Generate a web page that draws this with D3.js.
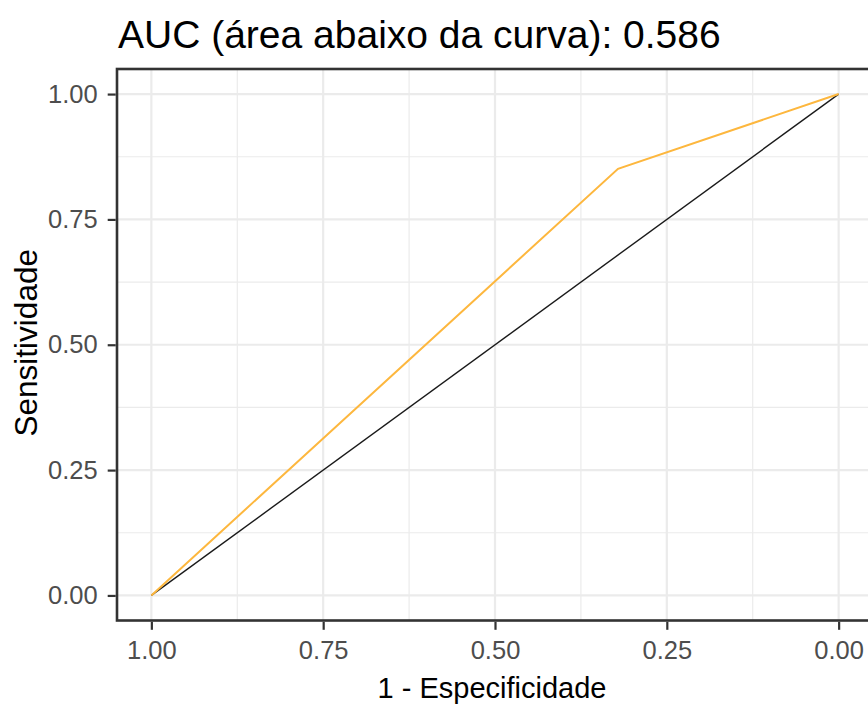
<!DOCTYPE html>
<html>
<head>
<meta charset="utf-8">
<script src="https://cdn.jsdelivr.net/npm/d3@7"></script>
<style>
  html, body { margin: 0; padding: 0; background: #fff; }
  svg { display: block; font-family: "Liberation Sans", Arial, sans-serif; }
</style>
</head>
<body>
<svg id="chart" width="868" height="707"></svg>
<script>
// ROC curve points (specificity on a reversed x axis, sensitivity on y)
const specificity = [1, 0.321, 0];
const sensitivity = [0, 0.851, 1];

// Chance line
const chanceX = [1, 0];
const chanceY = [0, 1];

const tickValues = [1, 0.75, 0.5, 0.25, 0];
const minorValues = [0.875, 0.625, 0.375, 0.125];

const titleText = "AUC (área abaixo da curva): 0.586";
const xTitle = "1 - Especificidade";
const yTitle = "Sensitividade";

const svg = d3.select("#chart");
const W = 868, H = 707;
const panel = { left: 117, top: 69, right: 873, bottom: 620.5 };

const x = d3.scaleLinear().domain([1.05, -0.05]).range([panel.left, panel.right]);
const y = d3.scaleLinear().domain([-0.05, 1.05]).range([panel.bottom, panel.top]);

svg.append("rect").attr("width", W).attr("height", H).attr("fill", "#fff");

svg.append("defs").append("clipPath").attr("id", "panel-clip")
  .append("rect")
  .attr("x", panel.left).attr("y", panel.top)
  .attr("width", panel.right - panel.left).attr("height", panel.bottom - panel.top);

const g = svg.append("g").attr("clip-path", "url(#panel-clip)");

// minor grid
g.selectAll(".vminor").data(minorValues).join("line")
  .attr("x1", d => x(d)).attr("x2", d => x(d))
  .attr("y1", panel.top).attr("y2", panel.bottom)
  .attr("stroke", "#EBEBEB").attr("stroke-width", 1.2);
g.selectAll(".hminor").data(minorValues).join("line")
  .attr("y1", d => y(d)).attr("y2", d => y(d))
  .attr("x1", panel.left).attr("x2", panel.right)
  .attr("stroke", "#EBEBEB").attr("stroke-width", 1.2);

// major grid
g.selectAll(".vmajor").data(tickValues).join("line")
  .attr("x1", d => x(d)).attr("x2", d => x(d))
  .attr("y1", panel.top).attr("y2", panel.bottom)
  .attr("stroke", "#EBEBEB").attr("stroke-width", 2.2);
g.selectAll(".hmajor").data(tickValues).join("line")
  .attr("y1", d => y(d)).attr("y2", d => y(d))
  .attr("x1", panel.left).attr("x2", panel.right)
  .attr("stroke", "#EBEBEB").attr("stroke-width", 2.2);

// chance diagonal
const line = d3.line().x(d => x(d[0])).y(d => y(d[1]));
g.append("path")
  .attr("d", line(d3.zip(chanceX, chanceY)))
  .attr("fill", "none").attr("stroke", "#1a1a1a").attr("stroke-width", 1.4);

// ROC curve
g.append("path")
  .attr("d", line(d3.zip(specificity, sensitivity)))
  .attr("fill", "none").attr("stroke", "#FDB73E").attr("stroke-width", 2);

// panel border
svg.append("rect")
  .attr("x", panel.left).attr("y", panel.top)
  .attr("width", panel.right - panel.left).attr("height", panel.bottom - panel.top)
  .attr("fill", "none").attr("stroke", "#333").attr("stroke-width", 2.6);

// axes
const fmt = d3.format(".2f");
const xAxis = svg.append("g")
  .attr("transform", `translate(0,${panel.bottom + 1.3})`)
  .call(d3.axisBottom(x).tickValues(tickValues).tickFormat(fmt).tickSizeOuter(0).tickSizeInner(8).tickPadding(11));
const yAxis = svg.append("g")
  .attr("transform", `translate(${panel.left - 1.3},0)`)
  .call(d3.axisLeft(y).tickValues(tickValues).tickFormat(fmt).tickSizeOuter(0).tickSizeInner(8).tickPadding(10));

[xAxis, yAxis].forEach(a => {
  a.select(".domain").remove();
  a.selectAll(".tick line").attr("stroke", "#333").attr("stroke-width", 2.2);
  a.selectAll(".tick text")
    .attr("fill", "#4D4D4D")
    .style("font-size", "25.5px")
    .style("font-family", "'Liberation Sans', Arial, sans-serif");
});

// titles
svg.append("text")
  .attr("x", 118).attr("y", 48)
  .attr("fill", "#000")
  .style("font-size", "39px")
  .text(titleText);

svg.append("text")
  .attr("x", (x(1.05) + x(-0.05)) / 2 - 3).attr("y", 698)
  .attr("text-anchor", "middle")
  .attr("fill", "#000")
  .style("font-size", "29px")
  .text(xTitle);

svg.append("text")
  .attr("transform", `translate(37,${(panel.top + panel.bottom) / 2 - 2}) rotate(-90)`)
  .attr("text-anchor", "middle")
  .attr("fill", "#000")
  .style("font-size", "31.5px")
  .text(yTitle);
</script>
</body>
</html>
